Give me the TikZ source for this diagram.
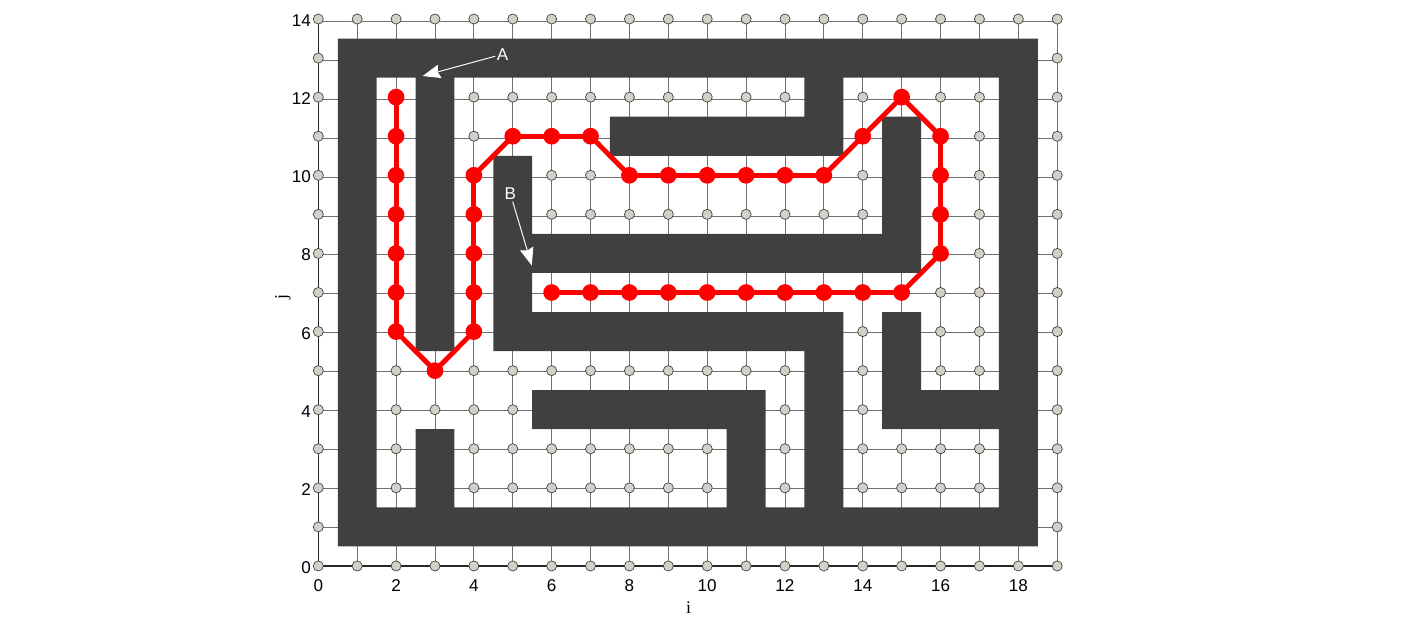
\documentclass[tikz,border=0pt]{standalone}
\usepackage{fontspec}
\setmainfont{Liberation Sans}
\newfontfamily\axisfont{Liberation Serif}
\usetikzlibrary{arrows.meta}
\definecolor{mWall}{RGB}{64,64,64}
\definecolor{mGrid}{RGB}{112,112,112}
\definecolor{mPoint}{RGB}{212,208,200}
\definecolor{mRoute}{RGB}{255,0,0}
\tikzset{
	gridline/.style={draw=mGrid,line width=0.6pt},
	axisline/.style={draw=black!85,line width=0.8pt},
	gridpt/.style={circle,draw=mWall,fill=mPoint,line width=0.5pt,minimum size=0.26cm,inner sep=0pt},
	routept/.style={circle,fill=mRoute,minimum size=0.43cm,inner sep=0pt},
	routeline/.style={draw=mRoute,line width=3.6pt,line cap=round},
	wall/.style={fill=mWall},
	ticklabel/.style={font=\fontsize{12.5}{14}\selectfont,inner sep=1pt},
	axislabel/.style={font=\axisfont\fontsize{13}{15}\selectfont,inner sep=1pt},
	marker/.style={font=\fontsize{12.5}{14}\selectfont,text=white,inner sep=1pt},
	pointer/.style={draw=white,line width=0.7pt,-{Stealth[length=13pt,width=10pt,inset=1.5pt]}}
}

\begin{document}
\begin{tikzpicture}[x=1cm,y=1.0046cm]
	\useasboundingbox (-8.185,-1.408) rectangle (28.303,14.487);
	\draw[gridline] (0,0) grid (19,14);
	\draw[axisline] (0,14) -- (0,0) -- (19,0);
	\foreach \i in {0,...,19}
		\foreach \j in {0,...,14}
			\node[gridpt] (g-\i-\j) at (\i,\j) {};
	\fill[wall] \foreach \a/\b/\c/\d in {
			0.5/0.5/18.5/1.5, 0.5/12.5/18.5/13.5, 0.5/0.5/1.5/13.5, 17.5/0.5/18.5/13.5,
			2.5/5.5/3.5/13, 2.5/1/3.5/3.5,
			7.5/10.5/13.5/11.5, 12.5/10.5/13.5/13,
			5.5/7.5/15.5/8.5, 14.5/7.5/15.5/11.5,
			4.5/5.5/5.5/10.5, 4.5/5.5/13.5/6.5, 12.5/1/13.5/6.5,
			5.5/3.5/11.5/4.5, 10.5/1/11.5/4.5,
			14.5/3.5/18/4.5, 14.5/3.5/15.5/6.5} {(\a,\b) rectangle (\c,\d)};
	\foreach \x/\y [count=\k] in {2/12,2/11,2/10,2/9,2/8,2/7,2/6,3/5,4/6,4/7,4/8,4/9,4/10,
			5/11,6/11,7/11,8/10,9/10,10/10,11/10,12/10,13/10,14/11,15/12,16/11,16/10,16/9,16/8,
			15/7,14/7,13/7,12/7,11/7,10/7,9/7,8/7,7/7,6/7}
		\node[routept] (r\k) at (\x,\y) {};
	\foreach \k [evaluate=\k as \n using int(\k+1)] in {1,...,37}
		\draw[routeline] (r\k) -- (r\n);
	\node[marker] (lblA) at (4.74,13.10) {A};
	\coordinate (tipA) at (2.68,12.54);
	\draw[pointer] (lblA) -- (tipA);
	\node[marker] (lblB) at (4.94,9.52) {B};
	\coordinate (tipB) at (5.49,7.69);
	\draw[pointer] (lblB) -- (tipB);
	\foreach \i in {0,2,...,18}
		\node[ticklabel] (xt\i) at (\i,-0.49) {\i};
	\foreach \j in {0,2,...,14}
		\node[ticklabel,anchor=east] (yt\j) at (-0.15,\j-0.04) {\j};
	\node[axislabel] (xlabel) at (9.52,-1.06) {i};
	\node[axislabel,rotate=90] (ylabel) at (-0.91,6.89) {j};
\end{tikzpicture}
\end{document}
